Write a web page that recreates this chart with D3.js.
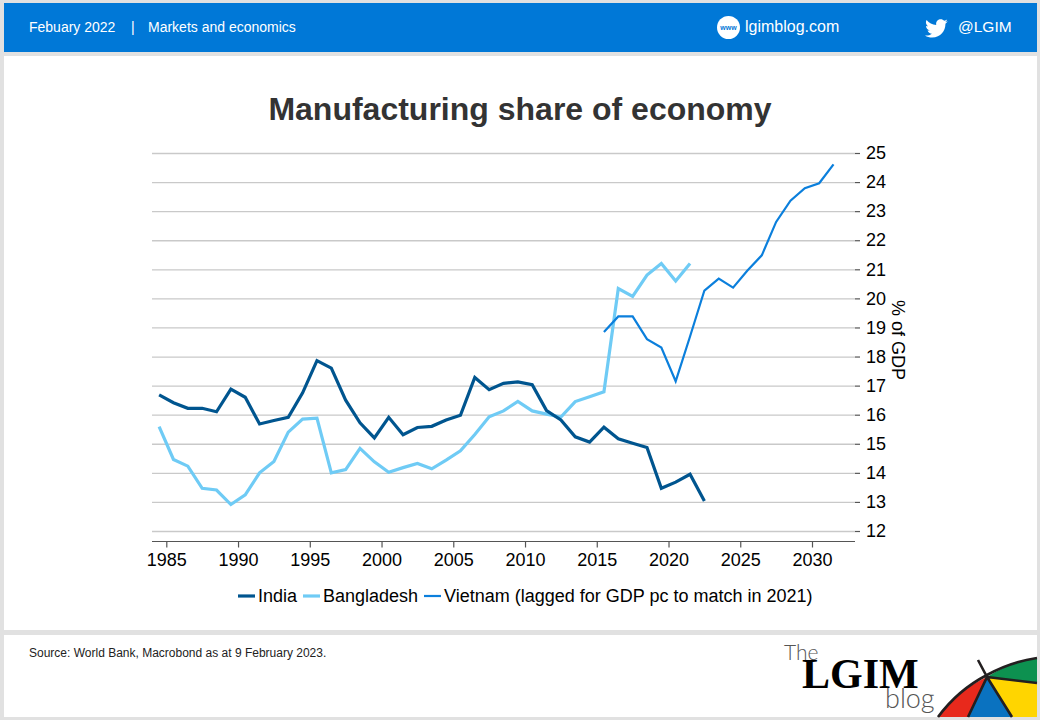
<!DOCTYPE html>
<html>
<head>
<meta charset="utf-8">
<script src="https://cdnjs.cloudflare.com/ajax/libs/d3/7.8.5/d3.min.js"></script>
<style>
  html, body { margin: 0; padding: 0; background: #e1e1e1; }
  svg { display: block; }
  text { font-family: "Liberation Sans", Arial, sans-serif; }
  .gridline line { stroke: #c9c9c9; stroke-width: 1.3; }
  .axis text { font-size: 18px; fill: #000; }
  .axis line, .axis path { stroke: #555; stroke-width: 1.2; }
</style>
</head>
<body>
<svg id="chart" width="1040" height="720"></svg>
<script>
// values, % of GDP per year
var indiaYears = d3.range(1984, 2023);
var india = [16.68, 16.41, 16.22, 16.22, 16.10, 16.88, 16.60, 15.68, 15.80, 15.91,
  16.75, 17.86, 17.60, 16.50, 15.72, 15.20, 15.91, 15.31, 15.56, 15.60,
  15.82, 15.98, 17.28, 16.86, 17.08, 17.13, 17.03, 16.14, 15.82, 15.24,
  15.06, 15.57, 15.17, 15.02, 14.87, 13.47, 13.68, 13.95, 13.03];

var bangladeshYears = d3.range(1984, 2022);
var bangladesh = [15.59, 14.46, 14.23, 13.47, 13.41, 12.91, 13.24, 14.00, 14.39, 15.40,
  15.85, 15.88, 14.00, 14.11, 14.84, 14.38, 14.02, 14.18, 14.32, 14.14,
  14.44, 14.76, 15.32, 15.93, 16.13, 16.46, 16.13, 16.02, 15.92, 16.45,
  16.62, 16.79, 20.34, 20.07, 20.80, 21.20, 20.60, 21.20];

var vietnamYears = d3.range(2015, 2032);
var vietnam = [18.84, 19.38, 19.38, 18.60, 18.31, 17.15, 18.69, 20.27, 20.68, 20.37,
  20.96, 21.48, 22.63, 23.36, 23.79, 23.96, 24.61];

var yearTicks = [1985, 1990, 1995, 2000, 2005, 2010, 2015, 2020, 2025, 2030];
var valueTicks = [12, 13, 14, 15, 16, 17, 18, 19, 20, 21, 22, 23, 24, 25];

var seriesNames = ["India", "Bangladesh", "Vietnam (lagged for GDP pc to match in 2021)"];
var seriesColors = ["#00558f", "#6fcbf5", "#0b7fdc"];
var seriesWidths = [3.2, 3.2, 2.2];

var svg = d3.select("#chart");

//BEGIN page frame
svg.append("rect").attr("x", 4).attr("y", 3).attr("width", 1033).attr("height", 49).attr("fill", "#0078d7");
svg.append("rect").attr("x", 4).attr("y", 56).attr("width", 1033).attr("height", 574).attr("fill", "#fff");
svg.append("rect").attr("x", 4).attr("y", 635).attr("width", 1033).attr("height", 82).attr("fill", "#fff");

function headerText(x, str, size) {
  svg.append("text").attr("x", x).attr("y", 32).attr("fill", "#fff")
    .style("font-size", size + "px").text(str);
}
headerText(29, "Febuary 2022", 14);
headerText(131, "|", 14);
headerText(148, "Markets and economics", 14);
headerText(745, "lgimblog.com", 16);
headerText(958, "@LGIM", 15.5);

// www badge
svg.append("circle").attr("cx", 728.5).attr("cy", 27.5).attr("r", 11.5).attr("fill", "#fff");
svg.append("text").attr("x", 728.5).attr("y", 30).attr("text-anchor", "middle").attr("fill", "#0078d7")
  .style("font-size", "7px").style("font-weight", "bold").text("www");

// twitter bird
svg.append("path")
  .attr("transform", "translate(925,17) scale(0.95)")
  .attr("fill", "#fff")
  .attr("d", "M24 4.6c-.9.4-1.8.7-2.8.8 1-.6 1.8-1.6 2.2-2.7-1 .6-2 1-3.100 1.200C19.300 2.900 18 2.300 16.600 2.300c-2.700 0-4.900 2.200-4.900 4.900 0 .4 0 .8.100 1.100C7.700 8.100 4.100 6.100 1.700 3.100c-.4.700-.7 1.600-.7 2.500 0 1.700.9 3.200 2.200 4.100-.8 0-1.600-.2-2.200-.6v.1c0 2.400 1.700 4.400 3.900 4.800-.4.100-.8.200-1.300.2-.3 0-.6 0-.9-.1.600 2 2.400 3.400 4.600 3.400-1.700 1.300-3.800 2.100-6.100 2.100-.4 0-.8 0-1.200-.1 2.200 1.400 4.800 2.200 7.500 2.200 9.100 0 14-7.500 14-14v-.6c1-.7 1.800-1.600 2.500-2.500z");

svg.append("text").attr("x", 520).attr("y", 120).attr("text-anchor", "middle").attr("fill", "#333")
  .style("font-size", "32px").style("font-weight", "bold").text("Manufacturing share of economy");

svg.append("text").attr("x", 29).attr("y", 657).attr("fill", "#222")
  .style("font-size", "12px").text("Source: World Bank, Macrobond as at 9 February 2023.");
//END page frame

//BEGIN chart
var left = 152, right = 855;
// year ticks sit at 1 January, the annual points half a year later
var x = d3.scaleLinear().domain([1985, 2030]).range([166.3, 812]);
var y = d3.scaleLinear().domain([12, 25]).range([531, 153]);

svg.append("g").attr("class", "gridline")
  .attr("transform", "translate(" + right + ",0)")
  .call(d3.axisLeft(y).tickValues(valueTicks).tickSize(right - left).tickFormat(""))
  .call(function(g) { g.select(".domain").remove(); });

svg.append("g").attr("class", "axis")
  .attr("transform", "translate(" + right + ",0)")
  .call(d3.axisRight(y).tickValues(valueTicks).tickSize(5).tickPadding(6))
  .call(function(g) { g.select(".domain").remove(); });

svg.append("g").attr("class", "axis")
  .attr("transform", "translate(0,541.5)")
  .call(d3.axisBottom(x).tickValues(yearTicks).tickSize(6).tickPadding(6).tickFormat(d3.format("d")))
  .call(function(g) {
    g.select(".domain").attr("d", "M" + left + ",0H" + right);
  });

svg.append("text")
  .attr("transform", "translate(892,340) rotate(90)")
  .attr("text-anchor", "middle").attr("fill", "#000")
  .style("font-size", "18px").text("% of GDP");

var line = d3.line()
  .x(function(d) { return x(d.year + 0.5); })
  .y(function(d) { return y(d.value); });

function drawSeries(years, values, i) {
  var rows = years.map(function(year, j) { return { year: year, value: values[j] }; });
  svg.append("path").datum(rows)
    .attr("fill", "none")
    .attr("stroke", seriesColors[i])
    .attr("stroke-width", seriesWidths[i])
    .attr("stroke-linejoin", "miter")
    .attr("d", line);
}
drawSeries(bangladeshYears, bangladesh, 1);
drawSeries(vietnamYears, vietnam, 2);
drawSeries(indiaYears, india, 0);

var legendSwatchX = [238, 303, 424];
seriesNames.forEach(function(name, i) {
  svg.append("line")
    .attr("x1", legendSwatchX[i]).attr("x2", legendSwatchX[i] + 17)
    .attr("y1", 596).attr("y2", 596)
    .attr("stroke", seriesColors[i]).attr("stroke-width", seriesWidths[i]);
  svg.append("text").attr("x", legendSwatchX[i] + 20).attr("y", 602).attr("fill", "#000")
    .style("font-size", "18px").text(name);
});
//END chart

//BEGIN logo
var logo = svg.append("g");
logo.append("text").attr("x", 784).attr("y", 660).attr("fill", "#555")
  .style("font-family", "Lato, sans-serif").style("font-weight", 300).style("font-size", "21px").text("The");
logo.append("text").attr("x", 802).attr("y", 688).attr("fill", "#000")
  .style("font-family", "'Liberation Serif', serif").style("font-weight", "bold").style("font-size", "42px").text("LGIM");
logo.append("text").attr("x", 885).attr("y", 708).attr("fill", "#555")
  .style("font-family", "Lato, sans-serif").style("font-weight", 300).style("font-size", "27px").text("blog");

var panels = [
  ["#e8291c", "M987,677 Q958,690 938,717 L968,717 Z"],
  ["#0a72c0", "M987,677 L968,717 L1012,717 Z"],
  ["#ffd500", "M987,677 L1012,717 L1037,717 L1037,683 Z"],
  ["#0d9150", "M987,677 Q1010,662 1037,658 L1037,683 Z"]
];
panels.forEach(function(p) {
  logo.append("path").attr("d", p[1]).attr("fill", p[0]);
});
logo.append("path")
  .attr("d", "M938,717 Q958,690 987,675 Q1010,662 1037,658 M978,660 L987,677 L968,717 M987,677 L1012,717 M987,677 L1037,683")
  .attr("fill", "none").attr("stroke", "#231f20").attr("stroke-width", 2.6);
//END logo
</script>
</body>
</html>
